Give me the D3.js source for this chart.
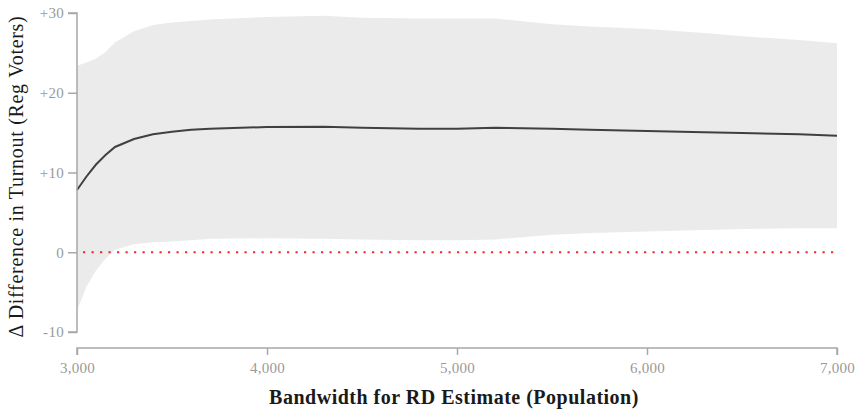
<!DOCTYPE html>
<html>
<head>
<meta charset="utf-8">
<script src="https://cdn.jsdelivr.net/npm/d3@7"></script>
<style>
  html, body { margin: 0; padding: 0; background: #fff; }
  svg { display: block; }
  .tick text { font-family: "Liberation Serif", serif; fill: #9a9a9a; letter-spacing: 0.3px; }
</style>
</head>
<body>
<svg id="chart" width="857" height="412"></svg>
<script>
// Bandwidth (population) at which the RD estimate was computed
const bandwidth = [3000, 3050, 3100, 3150, 3200, 3300, 3400, 3500, 3600, 3700, 4000, 4300, 4500, 4800, 5000, 5200, 5500, 5700, 6000, 6300, 6500, 6800, 7000];
// Point estimate of the turnout difference
const estimate  = [7.8, 9.5, 11.0, 12.2, 13.2, 14.2, 14.8, 15.1, 15.35, 15.5, 15.7, 15.75, 15.6, 15.5, 15.5, 15.6, 15.5, 15.35, 15.2, 15.05, 14.95, 14.8, 14.6];
// Confidence interval bounds
const upper     = [23.4, 23.8, 24.3, 25.1, 26.3, 27.7, 28.5, 28.8, 29.0, 29.2, 29.5, 29.65, 29.4, 29.3, 29.3, 29.3, 28.6, 28.3, 28.0, 27.5, 27.1, 26.6, 26.2];
const lower     = [-7.3, -4.3, -2.3, -0.8, 0.3, 1.0, 1.25, 1.35, 1.5, 1.7, 1.75, 1.7, 1.6, 1.5, 1.5, 1.6, 2.2, 2.4, 2.6, 2.8, 2.9, 3.0, 3.0];

const xTicks = [3000, 4000, 5000, 6000, 7000];
const yTicks = [-10, 0, 10, 20, 30];

const rows = bandwidth.map((b, i) => ({ b, est: estimate[i], hi: upper[i], lo: lower[i] }));

const svg = d3.select("#chart");
const x = d3.scaleLinear().domain([3000, 7000]).range([77, 837]);
const y = d3.scaleLinear().domain([-10, 30]).range([332, 13]);

// Confidence band
svg.append("path")
  .datum(rows)
  .attr("fill", "#ebebeb")
  .attr("d", d3.area().x(d => x(d.b)).y0(d => y(d.lo)).y1(d => y(d.hi)));

// Zero reference line
svg.append("line")
  .attr("x1", x(3000) + 6).attr("x2", x(7000))
  .attr("y1", y(0)).attr("y2", y(0))
  .attr("stroke", "#ee2b2b")
  .attr("stroke-width", 2.2)
  .attr("stroke-dasharray", "2.2 6.3");

// Point estimate
svg.append("path")
  .datum(rows)
  .attr("fill", "none")
  .attr("stroke", "#404040")
  .attr("stroke-width", 2)
  .attr("d", d3.line().x(d => x(d.b)).y(d => y(d.est)));

// Axes, offset from the plotting area
const fmtY = v => (v > 0 ? "+" : "") + v;
const yAxis = svg.append("g")
  .attr("transform", "translate(77,0)")
  .call(d3.axisLeft(y).tickValues(yTicks).tickFormat(fmtY).tickSize(9).tickPadding(4));
const xAxis = svg.append("g")
  .attr("transform", "translate(0,348)")
  .call(d3.axisBottom(x).tickValues(xTicks).tickFormat(d3.format(",")).tickSize(7).tickPadding(7));

[yAxis, xAxis].forEach(g => {
  g.select(".domain").attr("stroke", "#a8a8a8").attr("stroke-width", 1.5);
  g.selectAll(".tick line").attr("stroke", "#a8a8a8").attr("stroke-width", 1.5);
  g.selectAll(".tick text").attr("font-size", 15);
});
yAxis.select(".domain").attr("d", `M-9,${y(30)}H0V${y(-10)}H-9`);
xAxis.select(".domain").attr("d", `M${x(3000)},7V0H${x(7000)}V7`);

// Axis titles
svg.append("text")
  .attr("x", (x(3000) + x(7000)) / 2 - 3)
  .attr("y", 404)
  .attr("text-anchor", "middle")
  .attr("font-family", "Liberation Serif, serif")
  .attr("font-weight", "bold")
  .attr("font-size", 20)
  .attr("letter-spacing", 0.5)
  .attr("fill", "#1a1a1a")
  .text("Bandwidth for RD Estimate (Population)");

svg.append("text")
  .attr("transform", `translate(23,${(y(30) + y(-10)) / 2 + 4}) rotate(-90)`)
  .attr("text-anchor", "middle")
  .attr("font-family", "Liberation Serif, serif")
  .attr("font-size", 20)
  .attr("letter-spacing", 0.7)
  .attr("fill", "#1a1a1a")
  .text("Δ Difference in Turnout (Reg Voters)");
</script>
</body>
</html>
